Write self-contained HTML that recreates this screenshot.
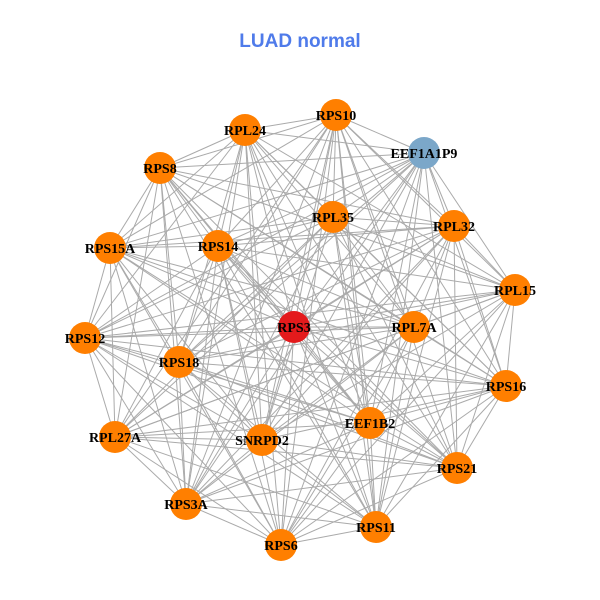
<!DOCTYPE html>
<html><head><meta charset="utf-8"><style>
html,body{margin:0;padding:0;background:#fff;width:600px;height:600px;overflow:hidden}
</style></head><body>
<svg id="s" width="600" height="600" xmlns="http://www.w3.org/2000/svg">
<rect width="600" height="600" fill="#fff"/>
<text x="300" y="47" text-anchor="middle" font-family="Liberation Sans, sans-serif" font-weight="bold" font-size="19" fill="#4f7bea">LUAD normal</text>
<g id="edges" stroke="#aaaaaa" stroke-width="1"></g>
<g id="nodes"></g>
</svg>
<script>
var N=[["RPS10",336,115,"o"],["RPL24",245,130,"o"],["EEF1A1P9",424,153,"b"],["RPS8",160,168,"o"],["RPL35",333,217,"o"],["RPL32",454,226,"o"],["RPS15A",110,248,"o"],["RPS14",218,246,"o"],["RPL15",515,290,"o"],["RPS3",294,327,"r"],["RPL7A",414,327,"o"],["RPS12",85,338,"o"],["RPS18",179,362,"o"],["RPS16",506,386,"o"],["EEF1B2",370,423,"o"],["SNRPD2",262,440,"o"],["RPL27A",115,437,"o"],["RPS21",457,468,"o"],["RPS3A",186,504,"o"],["RPS11",376,527,"o"],["RPS6",281,545,"o"]];
var ns="http://www.w3.org/2000/svg",E=document.getElementById("edges"),G=document.getElementById("nodes");
for(var i=0;i<N.length;i++)for(var j=i+1;j<N.length;j++){
 if((i*7+j*3)%11==0)continue;
 var l=document.createElementNS(ns,"line");
 l.setAttribute("x1",N[i][1]);l.setAttribute("y1",N[i][2]);l.setAttribute("x2",N[j][1]);l.setAttribute("y2",N[j][2]);E.appendChild(l);}
var col={o:"#ff7f00",r:"#e41a1c",b:"#7ba7c9"};
N.forEach(function(n){var c=document.createElementNS(ns,"circle");c.setAttribute("cx",n[1]);c.setAttribute("cy",n[2]);c.setAttribute("r",16);c.setAttribute("fill",col[n[3]]);G.appendChild(c);});
N.forEach(function(n){var t=document.createElementNS(ns,"text");t.setAttribute("x",n[1]);t.setAttribute("y",n[2]+5);t.setAttribute("text-anchor","middle");t.setAttribute("font-family","Liberation Serif, serif");t.setAttribute("font-weight","bold");t.setAttribute("font-size","14");t.textContent=n[0];G.appendChild(t);});
</script>
</body></html>
